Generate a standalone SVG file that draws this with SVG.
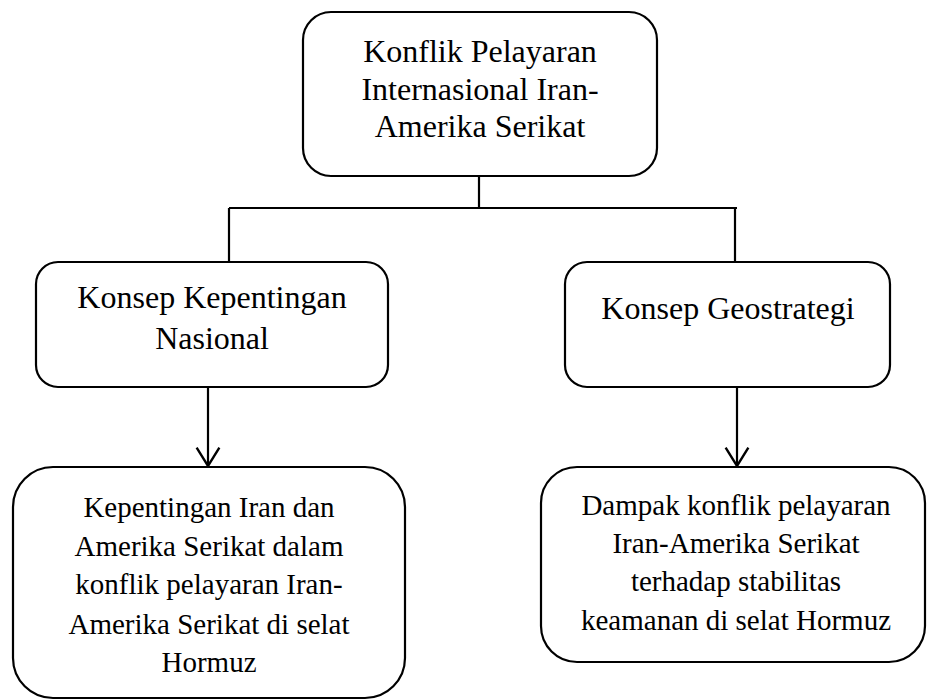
<svg xmlns="http://www.w3.org/2000/svg" width="927" height="700" viewBox="0 0 927 700">
<style>
.box{fill:#fff;stroke:#000;stroke-width:2.2}
.ln{fill:none;stroke:#000;stroke-width:2.2}
text{font-family:"Liberation Serif","Times New Roman",serif;font-size:32px;fill:#000;text-anchor:middle}
.sm{font-size:29px}
</style>
<defs>
<marker id="arr" markerUnits="userSpaceOnUse" markerWidth="24" markerHeight="26" refX="19" refY="12" orient="auto" viewBox="0 0 22 24">
<path d="M2,1.5 L19,12 L2,22.5" fill="none" stroke="#000" stroke-width="2.2"/>
</marker>
</defs>
<g id="connectors">
<path class="ln" d="M479,176 V208 M229,208 H737 M229,208 V262 M735,208 V262"/>
<path class="ln" d="M208,387 V466" marker-end="url(#arr)"/>
<path class="ln" d="M737,387 V466" marker-end="url(#arr)"/>
</g>
<g id="n-top">
<rect class="box" x="303" y="12" width="354" height="164" rx="28"/>
<text x="480" y="62">Konflik Pelayaran</text>
<text x="480" y="100">Internasional Iran-</text>
<text x="480" y="137">Amerika Serikat</text>
</g>
<g id="n-kepentingan">
<rect class="box" x="36" y="262" width="352" height="125" rx="22"/>
<text x="212" y="308">Konsep Kepentingan</text>
<text x="212" y="349">Nasional</text>
</g>
<g id="n-geostrategi">
<rect class="box" x="565" y="262" width="325" height="125" rx="22"/>
<text x="728" y="319">Konsep Geostrategi</text>
</g>
<g id="n-iran-as" class="sm">
<rect class="box" x="13" y="467" width="392" height="231" rx="40"/>
<text class="sm" x="209" y="517">Kepentingan Iran dan</text>
<text class="sm" x="209" y="556">Amerika Serikat dalam</text>
<text class="sm" x="209" y="594">konflik pelayaran Iran-</text>
<text class="sm" x="209" y="634">Amerika Serikat di selat</text>
<text class="sm" x="209" y="672">Hormuz</text>
</g>
<g id="n-dampak">
<rect class="box" x="541" y="467" width="384" height="195" rx="36"/>
<text class="sm" x="736" y="515">Dampak konflik pelayaran</text>
<text class="sm" x="736" y="553">Iran-Amerika Serikat</text>
<text class="sm" x="736" y="591">terhadap stabilitas</text>
<text class="sm" x="736" y="630">keamanan di selat Hormuz</text>
</g>
</svg>
